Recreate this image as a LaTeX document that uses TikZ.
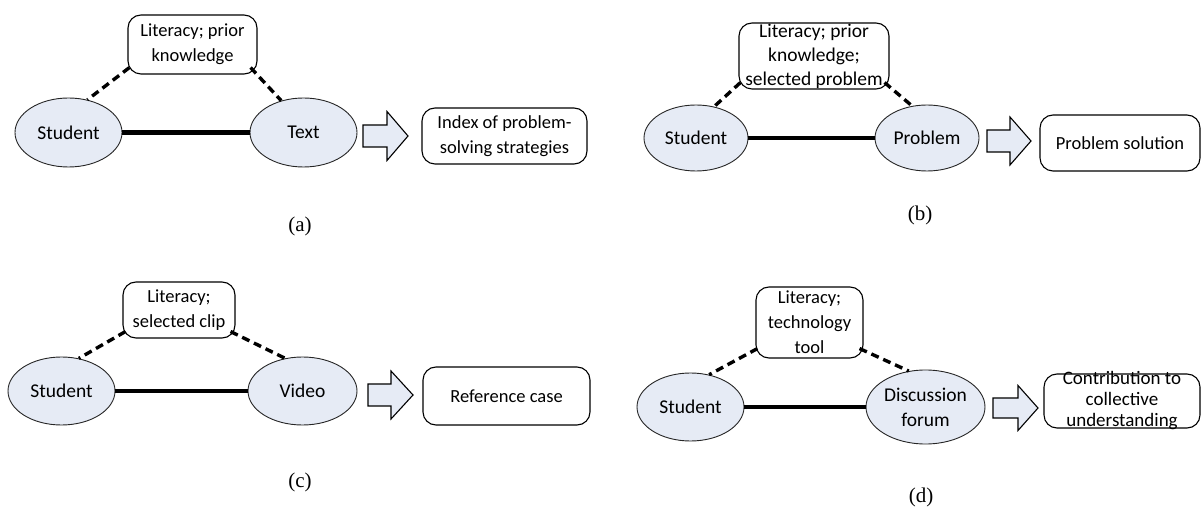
\documentclass[tikz,border=0pt]{standalone}
\usepackage{fontspec}
\setmainfont{Carlito}
\newfontfamily\capfont{Liberation Serif}
\usetikzlibrary{shapes.geometric}
\definecolor{ellfill}{HTML}{E6EBF5}
\definecolor{arrfill}{HTML}{E6EBF5}
\begin{document}
\begin{tikzpicture}[x=1pt,y=-1pt,
  actor/.style={ellipse, draw=black!85, line width=0.9pt, fill=ellfill, inner sep=0pt,
    align=center, font=\fontsize{19.5}{22}\selectfont},
  rbox/.style={rectangle, rounded corners=13pt, draw=black, line width=1.1pt, fill=white, inner sep=0pt},
  boxtext/.style={align=center, font=\fontsize{18.5}{25}\selectfont, inner sep=0pt},
  link/.style={line width=4.5pt},
  mediation/.style={line width=3.4pt, dash pattern=on 8pt off 5pt},
  blockarrow/.style={draw=black, line width=1.1pt, fill=arrfill, line join=miter},
  caption/.style={font=\capfont\fontsize{21}{24}\selectfont, inner sep=0pt}
]
\useasboundingbox (0,0) rectangle (1202,510);

% ---------------- (a) reading a text ----------------
\node[rbox, minimum width=129, minimum height=59] (topA) at (192.5,44.5) {};
\node[boxtext] at (topA.center) {Literacy; prior\\knowledge};
\node[actor, minimum width=107, minimum height=69] (stuA) at (68.5,132.5) {Student};
\node[actor, minimum width=107, minimum height=69] (txtA) at (303.5,132.5) {Text};
\draw[link] (stuA.east) -- (txtA.west);
\draw[mediation] ([xshift=2pt,yshift=7pt]topA.south west) -- (stuA.60);
\draw[mediation] ([xshift=-7pt,yshift=7pt]topA.south east) -- (txtA.125);
\coordinate (arA) at (363,136);
\draw[blockarrow] (arA) ++(0,-11) -- ++(24,0) -- ++(0,-13.5) -- ++(21,24.5)
  -- ++(-21,24.5) -- ++(0,-13.5) -- ++(-24,0) -- cycle;
\node[rbox, minimum width=165, minimum height=56] (outA) at (504.5,136) {};
\node[boxtext] at (outA.center) {Index of problem-\\solving strategies};
\node[caption] (capA) at (300,226) {(a)};

% ---------------- (b) solving a problem ----------------
\node[rbox, minimum width=150, minimum height=66] (topB) at (814,56) {};
\node[boxtext, font=\fontsize{19.5}{24}\selectfont] at (topB.center) {Literacy; prior\\knowledge;\\selected problem};
\node[actor, minimum width=104, minimum height=66] (stuB) at (696,138) {Student};
\node[actor, minimum width=104, minimum height=66] (prbB) at (927,138) {Problem};
\draw[link] (stuB.east) -- (prbB.west);
\draw[mediation] ([xshift=2pt,yshift=7pt]topB.south west) -- (stuB.60);
\draw[mediation] ([xshift=-5pt,yshift=7pt]topB.south east) -- (prbB.115);
\coordinate (arB) at (987,141);
\draw[blockarrow] (arB) ++(0,-11) -- ++(23,0) -- ++(0,-13) -- ++(21,24)
  -- ++(-21,24) -- ++(0,-13) -- ++(-23,0) -- cycle;
\node[rbox, minimum width=160, minimum height=56] (outB) at (1120,143) {};
\node[boxtext] at (outB.center) {Problem solution};
\node[caption] (capB) at (920,215) {(b)};

% ---------------- (c) watching a video ----------------
\node[rbox, minimum width=112, minimum height=56] (topC) at (179,310) {};
\node[boxtext] at (topC.center) {Literacy;\\selected clip};
\node[actor, minimum width=107, minimum height=68] (stuC) at (61.5,391) {Student};
\node[actor, minimum width=109, minimum height=68] (vidC) at (302.5,391) {Video};
\draw[link] (stuC.east) -- (vidC.west);
\draw[mediation] ([xshift=3pt,yshift=7pt]topC.south west) -- (stuC.62);
\draw[mediation] ([xshift=-5pt,yshift=7pt]topC.south east) -- (vidC.118);
\coordinate (arC) at (368,395);
\draw[blockarrow] (arC) ++(0,-11) -- ++(23,0) -- ++(0,-13) -- ++(22,24)
  -- ++(-22,24) -- ++(0,-13) -- ++(-23,0) -- cycle;
\node[rbox, minimum width=167, minimum height=58] (outC) at (506.5,396) {};
\node[boxtext] at (outC.center) {Reference case};
\node[caption] (capC) at (300,482) {(c)};

% ---------------- (d) posting to a forum ----------------
\node[rbox, minimum width=107, minimum height=71] (topD) at (809.5,322.5) {};
\node[boxtext] at (topD.center) {Literacy;\\technology\\tool};
\node[actor, minimum width=107, minimum height=68] (stuD) at (690.5,407) {Student};
\node[actor, minimum width=119, minimum height=74] (dscD) at (925.5,407) {Discussion\\[3pt]forum};
\draw[link] (stuD.east) -- (dscD.west);
\draw[mediation] ([xshift=2pt,yshift=10pt]topD.south west) -- (stuD.60);
\draw[mediation] ([xshift=-4pt,yshift=10pt]topD.south east) -- (dscD.115);
\coordinate (arD) at (993,408);
\draw[blockarrow] (arD) ++(0,-10) -- ++(25,0) -- ++(0,-12.5) -- ++(20,22.5)
  -- ++(-20,22.5) -- ++(0,-12.5) -- ++(-25,0) -- cycle;
\node[rbox, minimum width=156, minimum height=54] (outD) at (1122,401) {};
\node[boxtext, font=\fontsize{19}{21}\selectfont] at (outD.center) {Contribution to\\collective\\understanding};
\node[caption] (capD) at (921,497) {(d)};
\end{tikzpicture}
\end{document}
